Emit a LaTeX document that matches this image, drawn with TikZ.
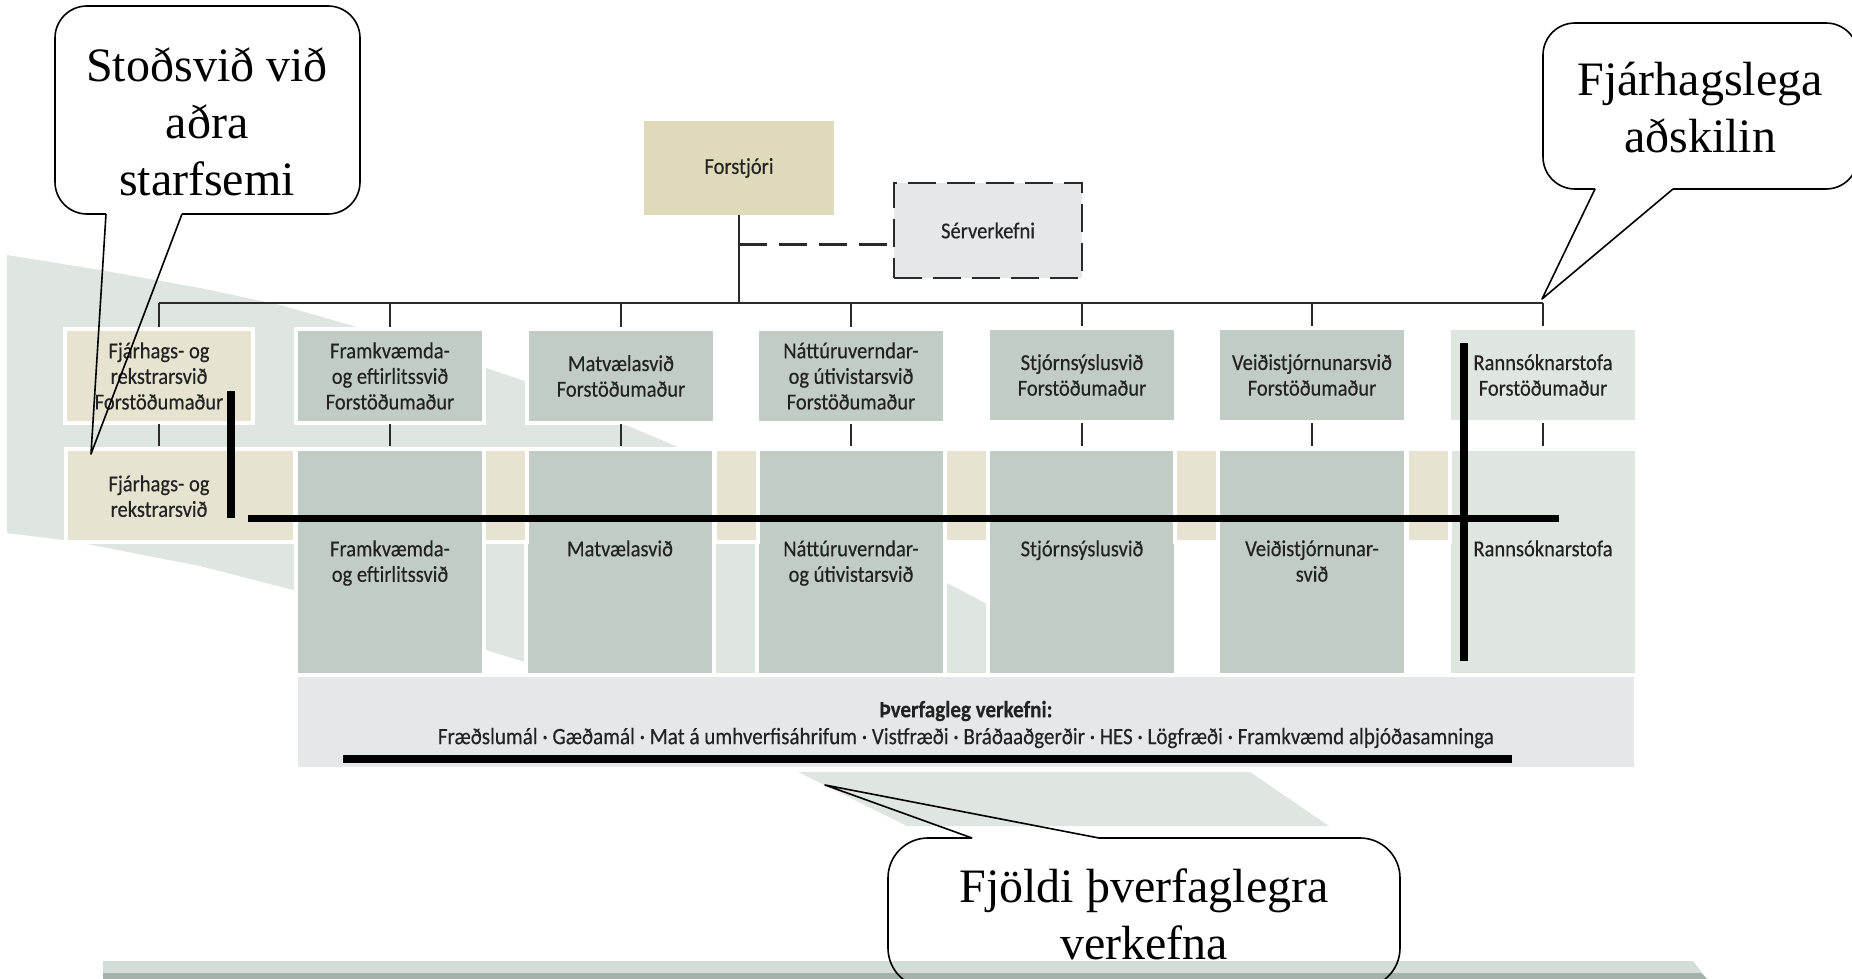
\documentclass[tikz,border=0pt]{standalone}
\usepackage{fontspec}
\setmainfont{Liberation Serif}
\newfontfamily\boxfont[FakeStretch=0.9,FakeBold=0.35]{Carlito}
\definecolor{swoosh}{HTML}{DFE5E1}
\definecolor{boxgray}{HTML}{C2CCC6}
\definecolor{boxtan}{HTML}{E6E3D0}
\definecolor{chieftan}{HTML}{DFDAB9}
\definecolor{palegray}{HTML}{E6E7E9}
\definecolor{lightbox}{HTML}{DFE5E1}
\definecolor{bandtop}{HTML}{D5DDD9}
\definecolor{banddark}{HTML}{A5B2AB}
\definecolor{txt}{HTML}{222222}
\definecolor{linec}{HTML}{2A2A2A}
\tikzset{
  orgbox/.style={rectangle, inner sep=0pt, align=center, text=txt,
    font=\boxfont\fontsize{11.4}{12.8}\selectfont,
    preaction={draw=white, line width=4pt}},
  grayr1/.style={orgbox, fill=boxgray, minimum width=92pt, minimum height=45pt},
  grayr2/.style={orgbox, fill=boxgray, minimum width=92pt, minimum height=111pt},
  tanstrip/.style={orgbox, fill=boxtan, minimum width=19.5pt, minimum height=44.5pt},
  boxlabel/.style={inner sep=0pt, align=center, text=txt, anchor=north,
    font=\boxfont\fontsize{11.4}{12.8}\selectfont},
  conn/.style={draw=linec, line width=1.25pt},
  heavy/.style={draw=black, line width=3.7pt},
  callout/.style={draw=black, line width=0.8pt, line join=round},
  ctext/.style={align=center, font=\fontsize{24}{28.5}\selectfont, inner sep=0pt}
}
\begin{document}
\begin{tikzpicture}[x=0.5pt, y=-0.5pt]
\useasboundingbox (0,0) rectangle (1852,979);
% background decoration
\fill[swoosh] (7,255) -- (100,270) -- (200,288) -- (280,305) -- (357,327) -- (450,356)
  -- (528,382) -- (600,414) -- (678,447) -- (800,510) -- (947,583) -- (985,603) -- (1000,611)
  -- (1000,680) -- (700,680) -- (525,662) -- (486,650) -- (400,622) -- (293,590) -- (200,566)
  -- (92,545) -- (63,540) -- (7,533) -- cycle;
\fill[swoosh] (798,772) -- (1250,772) -- (1329,826) -- (907,826) -- cycle;
\fill[bandtop] (103,961) -- (1693,961) -- (1707,979) -- (103,979) -- cycle;
\fill[banddark] (103,973) -- (1701,973) -- (1707,979) -- (103,979) -- cycle;

% top boxes
\node[orgbox, fill=chieftan, minimum width=95pt, minimum height=47pt] (forstjori) at (739,168) {Forstjóri};
\node[orgbox, fill=palegray, minimum width=94pt, minimum height=47.5pt, draw=linec, line width=1pt,
  dash pattern=on 14pt off 5.5pt] (serv) at (988,230.5) {Sérverkefni};

% row 1
\node[orgbox, fill=boxtan, minimum width=92pt, minimum height=45pt] (r1a) at (159,376) {Fjárhags- og\\rekstrarsvið\\Forstöðumaður};
\node[grayr1] (r1b) at (390,376) {Framkvæmda-\\og eftirlitssvið\\Forstöðumaður};
\node[grayr1] (r1c) at (621,376) {Matvælasvið\\Forstöðumaður};
\node[grayr1] (r1d) at (851,376) {Náttúruverndar-\\og útivistarsvið\\Forstöðumaður};
\node[grayr1] (r1e) at (1082,375) {Stjórnsýslusvið\\Forstöðumaður};
\node[grayr1] (r1f) at (1312,375) {Veiðistjórnunarsvið\\Forstöðumaður};
\node[grayr1, fill=lightbox] (r1g) at (1543,375) {Rannsóknarstofa\\Forstöðumaður};

% row 2
\node[orgbox, fill=boxtan, minimum width=112.5pt, minimum height=44.5pt] (r2a) at (180.5,495.5) {};
\node[grayr2] (r2b) at (390,562) {};
\node[grayr2] (r2c) at (620,562) {};
\node[grayr2] (r2d) at (851,562) {};
\node[grayr2] (r2e) at (1082,562) {};
\node[grayr2] (r2f) at (1312,562) {};
\node[grayr2, fill=lightbox] (r2g) at (1543,562) {};
\node[tanstrip] (t1) at (505.5,495.5) {};
\node[tanstrip] (t2) at (736,495.5) {};
\node[tanstrip] (t3) at (966,495.5) {};
\node[tanstrip] (t4) at (1196.5,495.5) {};
\node[tanstrip] (t5) at (1428,495.5) {};

\node[boxlabel] (l2a) at (159,475) {Fjárhags- og\\rekstrarsvið};
\node[boxlabel] (l2b) at (390,540) {Framkvæmda-\\og eftirlitssvið};
\node[boxlabel] (l2c) at (620,540) {Matvælasvið};
\node[boxlabel] (l2d) at (851,540) {Náttúruverndar-\\og útivistarsvið};
\node[boxlabel] (l2e) at (1082,540) {Stjórnsýslusvið};
\node[boxlabel] (l2f) at (1312,540) {Veiðistjórnunar-\\svið};
\node[boxlabel] (l2g) at (1543,540) {Rannsóknarstofa};

% cross-cutting band
\node[orgbox, fill=palegray, minimum width=668pt, minimum height=45pt] (band) at (966,722) {};
\node[boxlabel, anchor=center, font=\boxfont\fontsize{11.7}{13}\selectfont] (bandtitle) at (966,711) {\bfseries Þverfagleg verkefni:};
\node[boxlabel, anchor=center, font=\boxfont\fontsize{11.7}{13}\selectfont] (bandtext) at (966,738) {Fræðslumál · Gæðamál · Mat á umhverfisáhrifum · Vistfræði · Bráðaaðgerðir · HES · Lögfræði · Framkvæmd alþjóðasamninga};

% connectors
\coordinate (busL) at (159,303);
\coordinate (busR) at (1543,303);
\draw[conn] (forstjori.south) -- (forstjori.south |- busL);
\draw[conn] (busL) -- (busR);
\path (forstjori.south) ++(0,29) coordinate (dj);
\draw[conn, dash pattern=on 14pt off 6pt] (dj) -- (dj -| serv.west);
\foreach \n in {r1a,r1b,r1c,r1d,r1e,r1f,r1g}{
  \draw[conn, shorten >=2pt] (\n.north |- busL) -- (\n.north);
}
\foreach \a/\b in {r1a/r2a,r1b/r2b,r1c/r2c,r1d/r2d,r1e/r2e,r1f/r2f,r1g/r2g}{
  \draw[conn, shorten <=1.5pt, shorten >=2.5pt] (\a.south) -- (\a.south |- \b.north);
}

% heavy annotation strokes
\draw[heavy, line width=4pt] (231,391) -- (231,518);
\draw[heavy, line width=3.6pt] (248,518.5) -- (1559,518.5);
\draw[heavy, line width=3.6pt] (1464,343) -- (1464,661);
\draw[heavy, line width=3.8pt] (343,759) -- (1512,759);

% callouts
\coordinate (tip1) at (91,454);
\draw[callout, rounded corners=16pt] (106,214) -- (55,214) -- (55,6) -- (360,6) -- (360,214) -- (182,214);
\draw[callout] (182,214) -- (tip1) -- (106,214);
\node[ctext] (c1) at (207,122) {Stoðsvið við\\aðra\\starfsemi};

\coordinate (tip2) at (busR);
\draw[callout, rounded corners=16pt] (1595,189) -- (1543,189) -- (1543,23) -- (1858,23) -- (1858,189) -- (1673,189);
\draw[callout] (1673,189) -- (1542,299) -- (1595,189);
\node[ctext] (c2) at (1700,108) {Fjárhagslega\\aðskilin};

\coordinate (tip3) at (825,785);
\draw[callout, rounded corners=20pt] (972,838) -- (888,838) -- (888,988) -- (1400,988) -- (1400,838) -- (1099,838);
\draw[callout] (1099,838) -- (tip3) -- (972,838);
\node[ctext] (c3) at (1144,914) {Fjöldi þverfaglegra\\verkefna};
\end{tikzpicture}
\end{document}
